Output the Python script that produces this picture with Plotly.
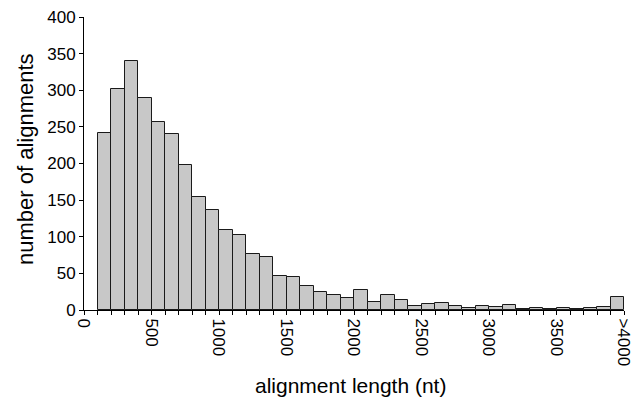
import plotly.graph_objects as go

bin_starts = list(range(100, 4000, 100))
counts = [242, 302, 340, 290, 257, 240, 198, 154, 136, 109, 103, 77, 73, 47, 45,
          33, 24, 20, 17, 27, 11, 20, 14, 6, 8, 10, 6, 3, 5, 4, 7, 2, 3, 1, 3, 1,
          3, 4, 18]
tick_vals = [0, 500, 1000, 1500, 2000, 2500, 3000, 3500, 4000]
tick_text = ["0", "500", "1000", "1500", "2000", "2500", "3000", "3500", ">4000"]
y_ticks = [0, 50, 100, 150, 200, 250, 300, 350, 400]

W, H = 641, 407
L, R, T, B = 84, 17, 17, 97
pw, ph = W - L - R, H - T - B

fig = go.Figure(go.Bar(
    x=[s + 50 for s in bin_starts], y=counts, width=100,
    marker=dict(color="#C8C8C8", line=dict(color="#1a1a1a", width=1)),
))

fam = "Liberation Sans, Arial, sans-serif"
tickfont = dict(family=fam, size=17, color="#000000")
fig.update_layout(
    width=W, height=H,
    margin=dict(l=L, r=R, t=T, b=B),
    paper_bgcolor="white", plot_bgcolor="white",
    font=tickfont, showlegend=False, bargap=0,
    xaxis=dict(
        range=[0, 4000], tickvals=tick_vals, ticktext=tick_text, tickangle=90,
        showline=True, linecolor="black", linewidth=1, ticks="outside",
        ticklen=4, tickcolor="black", showgrid=False, zeroline=False,
        minor=dict(dtick=100, tick0=0, ticks="outside", ticklen=4, tickcolor="black", showgrid=False),
        automargin=False, tickfont=tickfont,
    ),
    yaxis=dict(
        range=[0, 400], tickvals=y_ticks, showline=True, linecolor="black",
        linewidth=1, ticks="outside", ticklen=4, tickcolor="black",
        showgrid=False, zeroline=False, automargin=False, tickfont=tickfont,
    ),
    annotations=[
        dict(text="alignment length (nt)", xref="paper", yref="paper",
             x=(350 - L) / pw, y=(H - B - 385) / ph, showarrow=False,
             xanchor="center", yanchor="middle",
             font=dict(family=fam, size=21, color="#000000")),
        dict(text="number of alignments", xref="paper", yref="paper",
             x=(25 - L) / pw, y=(H - B - 159) / ph, showarrow=False, textangle=-90,
             xanchor="center", yanchor="middle",
             font=dict(family=fam, size=22, color="#000000")),
    ],
)
fig.write_html("out.html", config={"displayModeBar": False},
               post_script="document.body.style.margin='0';")
